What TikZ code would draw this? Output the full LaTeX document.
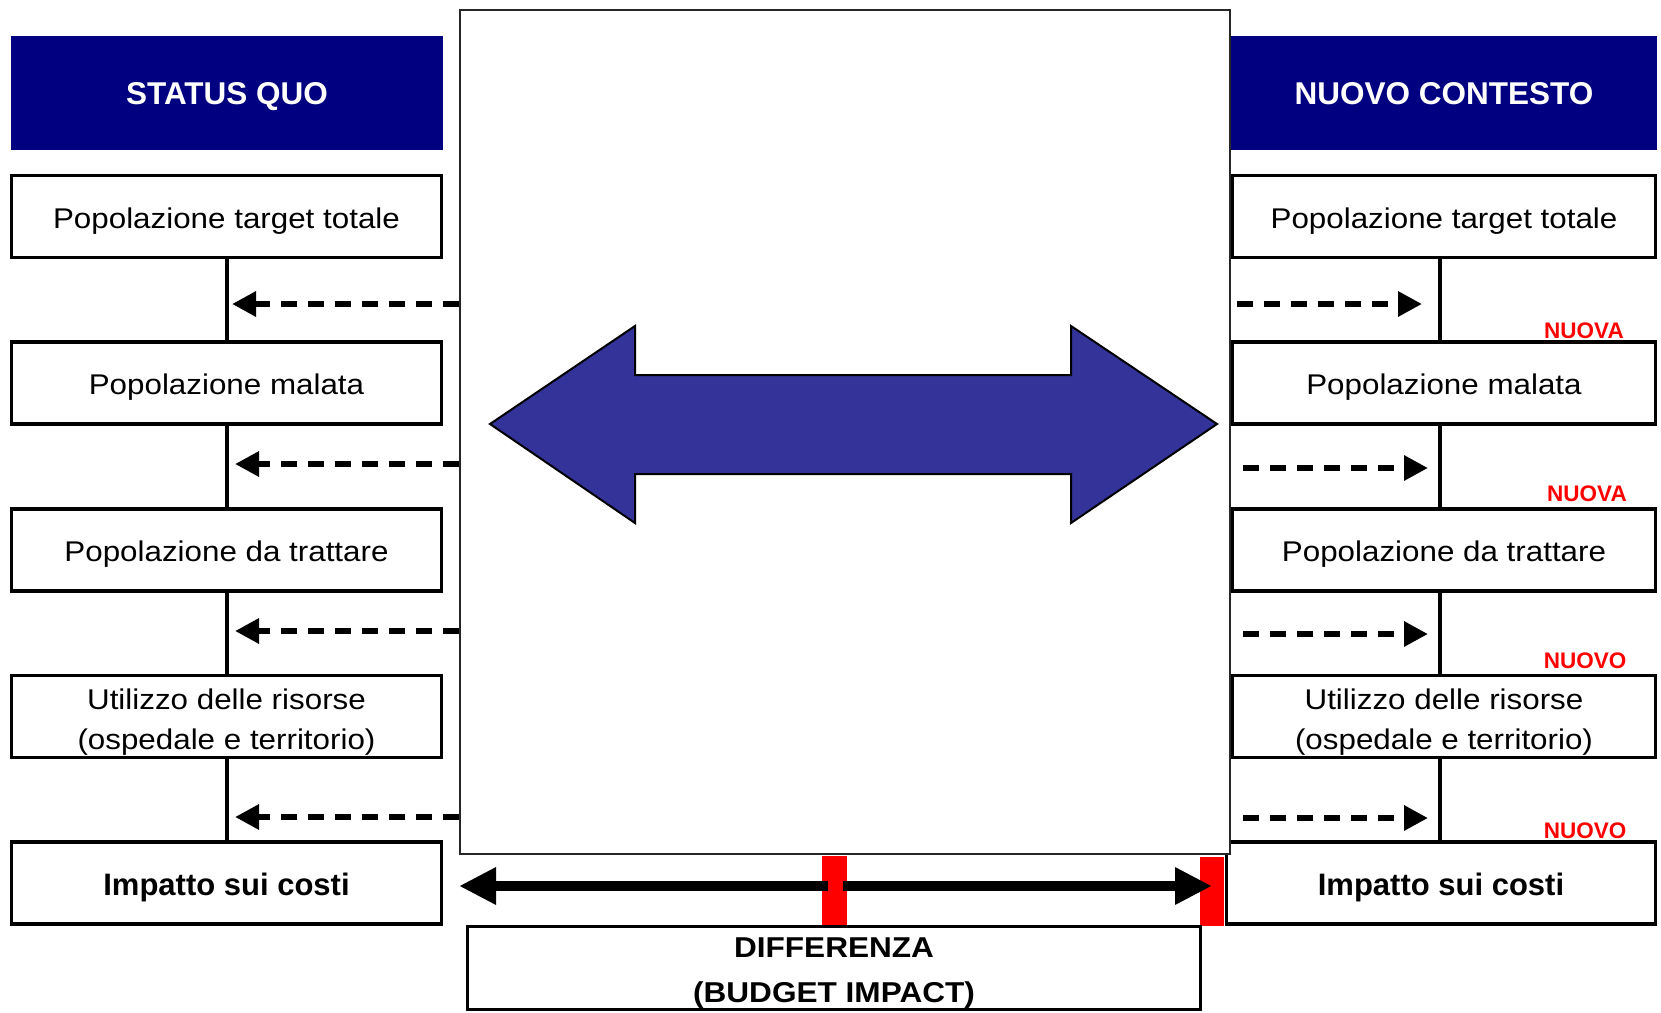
\documentclass[tikz,border=0pt]{standalone}
\usepackage{fontspec}
\setmainfont{Liberation Sans}
\newfontfamily\boxfont{Liberation Sans}[FakeStretch=1.1]
\usetikzlibrary{arrows.meta}

\definecolor{headblue}{RGB}{0,0,128}
\definecolor{arrowblue}{RGB}{51,51,153}

\tikzset{
  stepbox/.style={draw, fill=white, line width=3.3pt, minimum width=430pt, minimum height=82pt, inner sep=0pt, align=center,
    text height=23pt, text depth=0pt, font=\boxfont\fontsize{28.5}{40}\selectfont},
  twolinebox/.style={stepbox, text height=, text depth=},
  costbox/.style={stepbox, text height=24pt, font=\bfseries\fontsize{31}{36}\selectfont},
  headbox/.style={fill=headblue, text=white, minimum width=432pt, minimum height=114pt, inner sep=0pt,
    text height=22pt, text depth=0pt, font=\bfseries\fontsize{31.5}{36}\selectfont},
  tag/.style={text=red, inner sep=0pt, font=\bfseries\fontsize{22.5}{26}\selectfont},
  link/.style={line width=3.3pt},
  flow/.style={line width=6pt, dash pattern=on 16pt off 11pt, -{Triangle[length=24pt, width=24pt]}},
  diffarrow/.style={line width=10pt, -{Triangle[length=37pt, width=35pt]}}
}

\begin{document}
\begin{tikzpicture}[x=1pt, y=-1pt]
    \useasboundingbox (0,0) rectangle (1661,1012);

    % Headers
    \node[headbox] (hl) at (227,93) {STATUS QUO};
    \node[headbox, minimum width=426pt] (hr) at (1444,93) {NUOVO CONTESTO};

    % Status quo column
    \node[stepbox] (l1) at (226.5,216.5) {Popolazione target totale};
    \node[stepbox] (l2) at (226.5,383) {Popolazione malata};
    \node[stepbox] (l3) at (226.5,550) {Popolazione da trattare};
    \node[twolinebox] (l4) at (226.5,716.5) {\rule{0pt}{32.5pt}Utilizzo delle risorse\\(ospedale e territorio)};
    \node[costbox] (l5) at (226.5,883) {Impatto sui costi};

    % Nuovo contesto column
    \node[stepbox, minimum width=423pt] (r1) at (1444,216.5) {Popolazione target totale};
    \node[stepbox, minimum width=423pt] (r2) at (1444,383) {Popolazione malata};
    \node[stepbox, minimum width=423pt] (r3) at (1444,550) {Popolazione da trattare};
    \node[twolinebox, minimum width=423pt] (r4) at (1444,716.5) {\rule{0pt}{32.5pt}Utilizzo delle risorse\\(ospedale e territorio)};
    \node[costbox, minimum width=429pt] (r5) at (1441,883) {Impatto sui costi};

    % Central frame
    \node[draw=black!85, fill=white, line width=2pt, minimum width=770pt, minimum height=844pt, inner sep=0pt] (ctx) at (845,432) {};

    % Links between steps
    \coordinate (lv) at (227,0);
    \coordinate (rv) at (1440,0);
    \foreach \a/\b in {1/2,2/3,3/4,4/5} {
        \draw[link] (l\a.south -| lv) -- (l\b.north -| lv);
        \draw[link] (r\a.south -| rv) -- (r\b.north -| rv);
    }

    % Dashed arrows
    \draw[flow, shorten >=5pt] (ctx.west |- 0,304) -- (lv |- 0,304);
    \foreach \y in {464,631,817}
        \draw[flow, shorten >=8pt] (ctx.west |- 0,\y) -- (lv |- 0,\y);
    \draw[flow, shorten <=6pt, shorten >=18pt] (ctx.east |- 0,304) -- (rv |- 0,304);
    \foreach \y in {468,634,818}
        \draw[flow, shorten <=12pt, shorten >=12pt] (ctx.east |- 0,\y) -- (rv |- 0,\y);

    % Tags
    \node[tag] (t1) at (1584,331) {NUOVA};
    \node[tag] (t2) at (1587,494) {NUOVA};
    \node[tag] (t3) at (1585,661) {NUOVO};
    \node[tag] (t4) at (1585,831) {NUOVO};

    % Big double arrow
    \draw[fill=arrowblue, line width=2pt, line join=miter] (490,424) -- (635,326) -- (635,375) -- (1071,375) -- (1071,326) -- (1217,424)
        -- (1071,523) -- (1071,474) -- (635,474) -- (635,523) -- cycle;

    % Difference
    \node[fill=red, minimum width=25pt, minimum height=69pt, inner sep=0pt] (m1) at (834.5,890.5) {};
    \node[fill=red, minimum width=24pt, minimum height=69pt, inner sep=0pt] (m2) at (1212,891.5) {};
    \coordinate (mid) at (835,886);
    \draw[diffarrow] ([xshift=-7pt]mid) -- (ctx.west |- mid);
    \draw[diffarrow] ([xshift=8pt]mid) -- (m2 |- mid);

    \node[draw, line width=3.3pt, minimum width=733pt, minimum height=83pt, inner sep=0pt, align=center,
        font=\boxfont\bfseries\fontsize{28.7}{45}\selectfont] (diff) at (834,968) {\rule{0pt}{30.5pt}DIFFERENZA\\(BUDGET IMPACT)};
\end{tikzpicture}
\end{document}
